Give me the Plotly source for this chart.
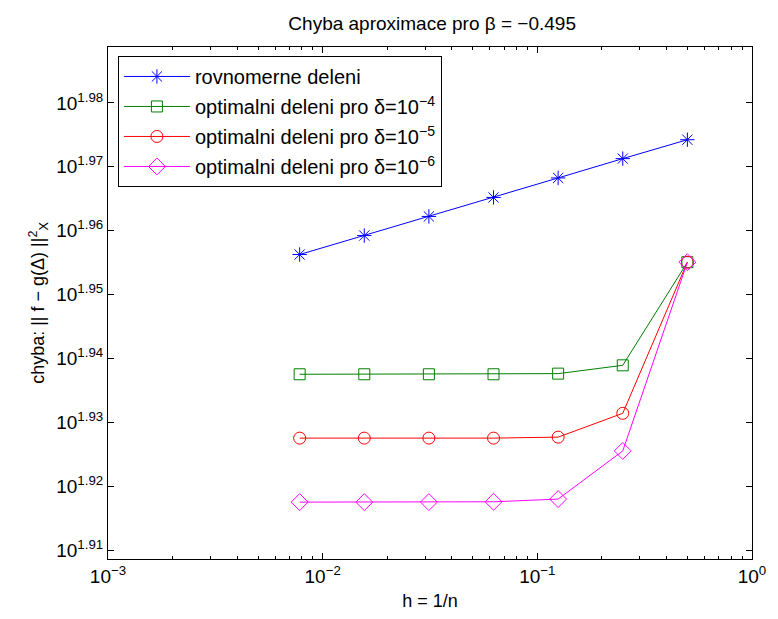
import plotly.graph_objects as go

h = [1/128, 1/64, 1/32, 1/16, 1/8, 1/4, 1/2]
uniform = [90.42, 91.04, 91.67, 92.30, 92.95, 93.60, 94.24]
opt_d4 = [86.60, 86.60, 86.60, 86.60, 86.62, 86.88, 90.17]
opt_d5 = [84.63, 84.63, 84.63, 84.63, 84.66, 85.39, 90.17]
opt_d6 = [82.70, 82.70, 82.70, 82.71, 82.79, 84.24, 90.17]

names = ["rovnomerne deleni",
         "optimalni deleni pro δ=10<sup>−4</sup>",
         "optimalni deleni pro δ=10<sup>−5</sup>",
         "optimalni deleni pro δ=10<sup>−6</sup>"]
colors = ["#0000ff", "#008000", "#ff0000", "#ff00ff"]
symbols = ["asterisk-open", "square-open", "circle-open", "diamond-open"]
sizes = [12, 11, 12, 13]

y_exp = [1.91, 1.92, 1.93, 1.94, 1.95, 1.96, 1.97, 1.98]
y_tickvals = [10 ** e for e in y_exp]
y_ticktext = ["10<sup>%.2f</sup>" % e for e in y_exp]
x_exp = [-3, -2, -1, 0]
x_tickvals = [10.0 ** e for e in x_exp]
x_ticktext = ["10<sup>%s</sup>" % (str(e).replace("-", "−")) for e in x_exp]
x_minor = [m * 10.0 ** e for e in [-3, -2, -1] for m in range(2, 10)]

FONT = "Liberation Sans, Arial, sans-serif"

fig = go.Figure()
for i, (ys, nm, c, s, sz) in enumerate(zip([uniform, opt_d4, opt_d5, opt_d6], names, colors, symbols, sizes)):
    fig.add_trace(go.Scatter(
        x=h, y=ys, name=nm, mode="lines+markers", legendgroup="g%d" % i,
        line=dict(color=c, width=1),
        marker=dict(symbol=s, size=sz, color=c, line=dict(color=c, width=1)),
    ))

fig.update_layout(
    width=778, height=619,
    margin=dict(l=108, r=21, t=47, b=59),
    plot_bgcolor="white", paper_bgcolor="white",
    font=dict(family=FONT, size=18, color="black"),
    title=dict(text="Chyba aproximace pro β = −0.495", x=0.5555, xanchor="center",
               y=0.962, yanchor="middle", font=dict(size=19, family=FONT, color="black")),
    showlegend=True,
    legend=dict(x=0.0154, y=0.9825, xanchor="left", yanchor="top",
                bordercolor="black", borderwidth=1, bgcolor="white",
                itemwidth=66, tracegroupgap=1, traceorder="grouped",
                font=dict(size=20, family=FONT, color="black")),
)
fig.update_xaxes(
    type="log", range=[-3, 0],
    tickmode="array", tickvals=x_tickvals, ticktext=x_ticktext,
    ticks="inside", ticklen=6, tickcolor="black",
    showline=True, linecolor="black", linewidth=1, mirror="ticks",
    showgrid=False, zeroline=False,
    minor=dict(tickmode="array", tickvals=x_minor, ticks="inside", ticklen=3,
               tickcolor="black", showgrid=False),
    tickfont=dict(size=19, family=FONT, color="black"),
    title=dict(text="h = 1/n", font=dict(size=18, family=FONT, color="black"), standoff=8),
)
fig.update_yaxes(
    type="log", range=[1.9086, 1.98875],
    tickmode="array", tickvals=y_tickvals, ticktext=y_ticktext,
    ticks="inside", ticklen=6, tickcolor="black",
    showline=True, linecolor="black", linewidth=1, mirror="ticks",
    showgrid=False, zeroline=False,
    tickfont=dict(size=19, family=FONT, color="black"),
    title=dict(text="chyba: || f − g(Δ) ||<sup>2</sup><sub>X</sub>",
               font=dict(size=18, family=FONT, color="black"), standoff=6),
)

fig.write_html("out.html")
